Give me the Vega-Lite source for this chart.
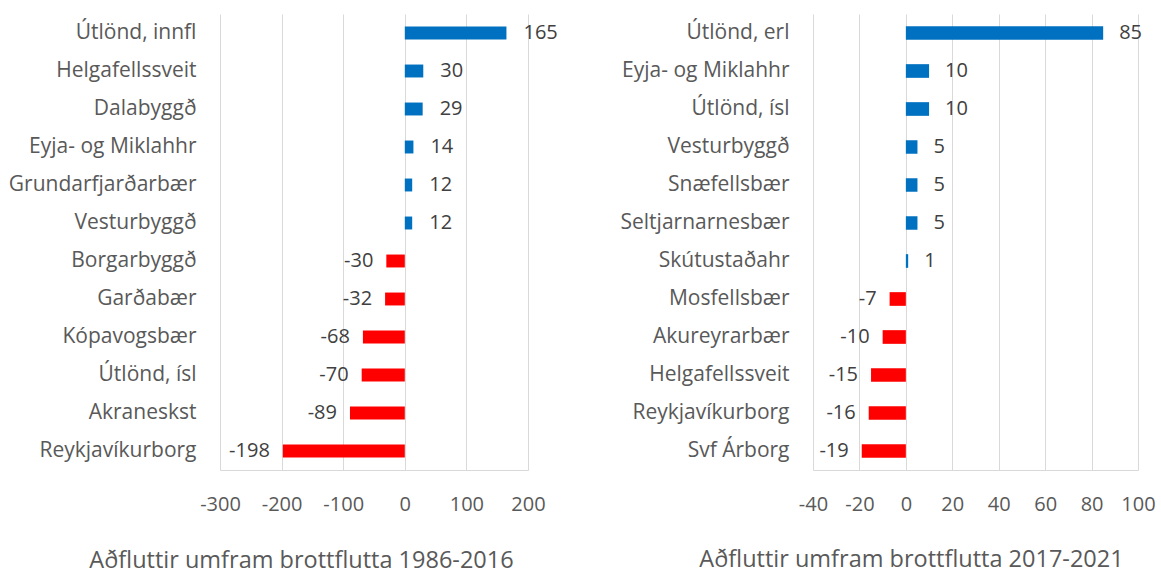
{
  "$schema": "https://vega.github.io/schema/vega-lite/v6.json",
  "background": "white",
  "padding": {"left": 8, "top": 14, "right": 5, "bottom": 2},
  "bounds": "flush",
  "spacing": 285,
  "datasets": {
    "p1": [
      {"place": "Útlönd, innfl", "value": 165},
      {"place": "Helgafellssveit", "value": 30},
      {"place": "Dalabyggð", "value": 29},
      {"place": "Eyja- og Miklahhr", "value": 14},
      {"place": "Grundarfjarðarbær", "value": 12},
      {"place": "Vesturbyggð", "value": 12},
      {"place": "Borgarbyggð", "value": -30},
      {"place": "Garðabær", "value": -32},
      {"place": "Kópavogsbær", "value": -68},
      {"place": "Útlönd, ísl", "value": -70},
      {"place": "Akraneskst", "value": -89},
      {"place": "Reykjavíkurborg", "value": -198}
    ],
    "p2": [
      {"place": "Útlönd, erl", "value": 85},
      {"place": "Eyja- og Miklahhr", "value": 10},
      {"place": "Útlönd, ísl", "value": 10},
      {"place": "Vesturbyggð", "value": 5},
      {"place": "Snæfellsbær", "value": 5},
      {"place": "Seltjarnarnesbær", "value": 5},
      {"place": "Skútustaðahr", "value": 1},
      {"place": "Mosfellsbær", "value": -7},
      {"place": "Akureyrarbær", "value": -10},
      {"place": "Helgafellssveit", "value": -15},
      {"place": "Reykjavíkurborg", "value": -16},
      {"place": "Svf Árborg", "value": -19}
    ]
  },
  "config": {
    "font": "Open Sans",
    "locale": {"number": {"decimal": ".", "thousands": ",", "grouping": [3], "currency": ["$", ""], "minus": "-"}},
    "view": {"stroke": null},
    "axisX": {
      "grid": true, "gridColor": "#D9D9D9", "gridWidth": 1,
      "domain": true, "domainColor": "#D9D9D9", "domainWidth": 1,
      "ticks": false, "tickSize": 0, "labelPadding": 24, "labelOverlap": false, "labelFlush": false,
      "labelFontSize": 20, "labelColor": "#595959", "labelFont": "Open Sans",
      "titleFontSize": 23.5, "titleFontWeight": "normal", "titleColor": "#595959", "titleFont": "Open Sans",
      "titleAlign": "center", "titleBaseline": "middle", "titleAnchor": null
    },
    "axisY": {
      "grid": false, "domain": false, "ticks": false, "tickSize": 0,
      "labelPadding": 24, "labelFontSize": 21, "labelColor": "#595959", "labelFont": "Open Sans",
      "labelLimit": 400, "title": null
    },
    "text": {"fontSize": 20, "color": "#404040", "font": "Open Sans"}
  },
  "hconcat": [
    {
      "width": 308,
      "height": 456,
      "data": {"name": "p1"},
      "encoding": {
        "y": {"field": "place", "type": "nominal", "sort": null,
              "scale": {"paddingInner": 0.66, "paddingOuter": 0.33},
              "axis": {"title": null}},
        "x": {"field": "value", "type": "quantitative",
              "scale": {"domain": [-300, 200], "nice": false, "zero": false},
              "axis": {"values": [-300, -200, -100, 0, 100, 200],
                       "title": "Aðfluttir umfram brottflutta 1986-2016",
                       "titleX": 81, "titleY": 90}}
      },
      "layer": [
        {"mark": {"type": "bar"},
         "encoding": {"color": {"condition": {"test": "datum.value < 0", "value": "#FF0000"}, "value": "#0070C0"}}},
        {"transform": [{"filter": "datum.value >= 0"}],
         "mark": {"type": "text", "align": "left", "baseline": "middle", "dx": 17},
         "encoding": {"text": {"field": "value", "type": "quantitative"}}},
        {"transform": [{"filter": "datum.value < 0"}],
         "mark": {"type": "text", "align": "right", "baseline": "middle", "dx": -13},
         "encoding": {"text": {"field": "value", "type": "quantitative"}}}
      ]
    },
    {
      "width": 325,
      "height": 456,
      "data": {"name": "p2"},
      "encoding": {
        "y": {"field": "place", "type": "nominal", "sort": null,
              "scale": {"paddingInner": 0.64, "paddingOuter": 0.32},
              "axis": {"title": null}},
        "x": {"field": "value", "type": "quantitative",
              "scale": {"domain": [-40, 100], "nice": false, "zero": false},
              "axis": {"values": [-40, -20, 0, 20, 40, 60, 80, 100],
                       "title": "Aðfluttir umfram brottflutta 2017-2021",
                       "titleX": 98, "titleY": 89}}
      },
      "layer": [
        {"mark": {"type": "bar"},
         "encoding": {"color": {"condition": {"test": "datum.value < 0", "value": "#FF0000"}, "value": "#0070C0"}}},
        {"transform": [{"filter": "datum.value >= 0"}],
         "mark": {"type": "text", "align": "left", "baseline": "middle", "dx": 16},
         "encoding": {"text": {"field": "value", "type": "quantitative"}}},
        {"transform": [{"filter": "datum.value < 0"}],
         "mark": {"type": "text", "align": "right", "baseline": "middle", "dx": -13},
         "encoding": {"text": {"field": "value", "type": "quantitative"}}}
      ]
    }
  ]
}
